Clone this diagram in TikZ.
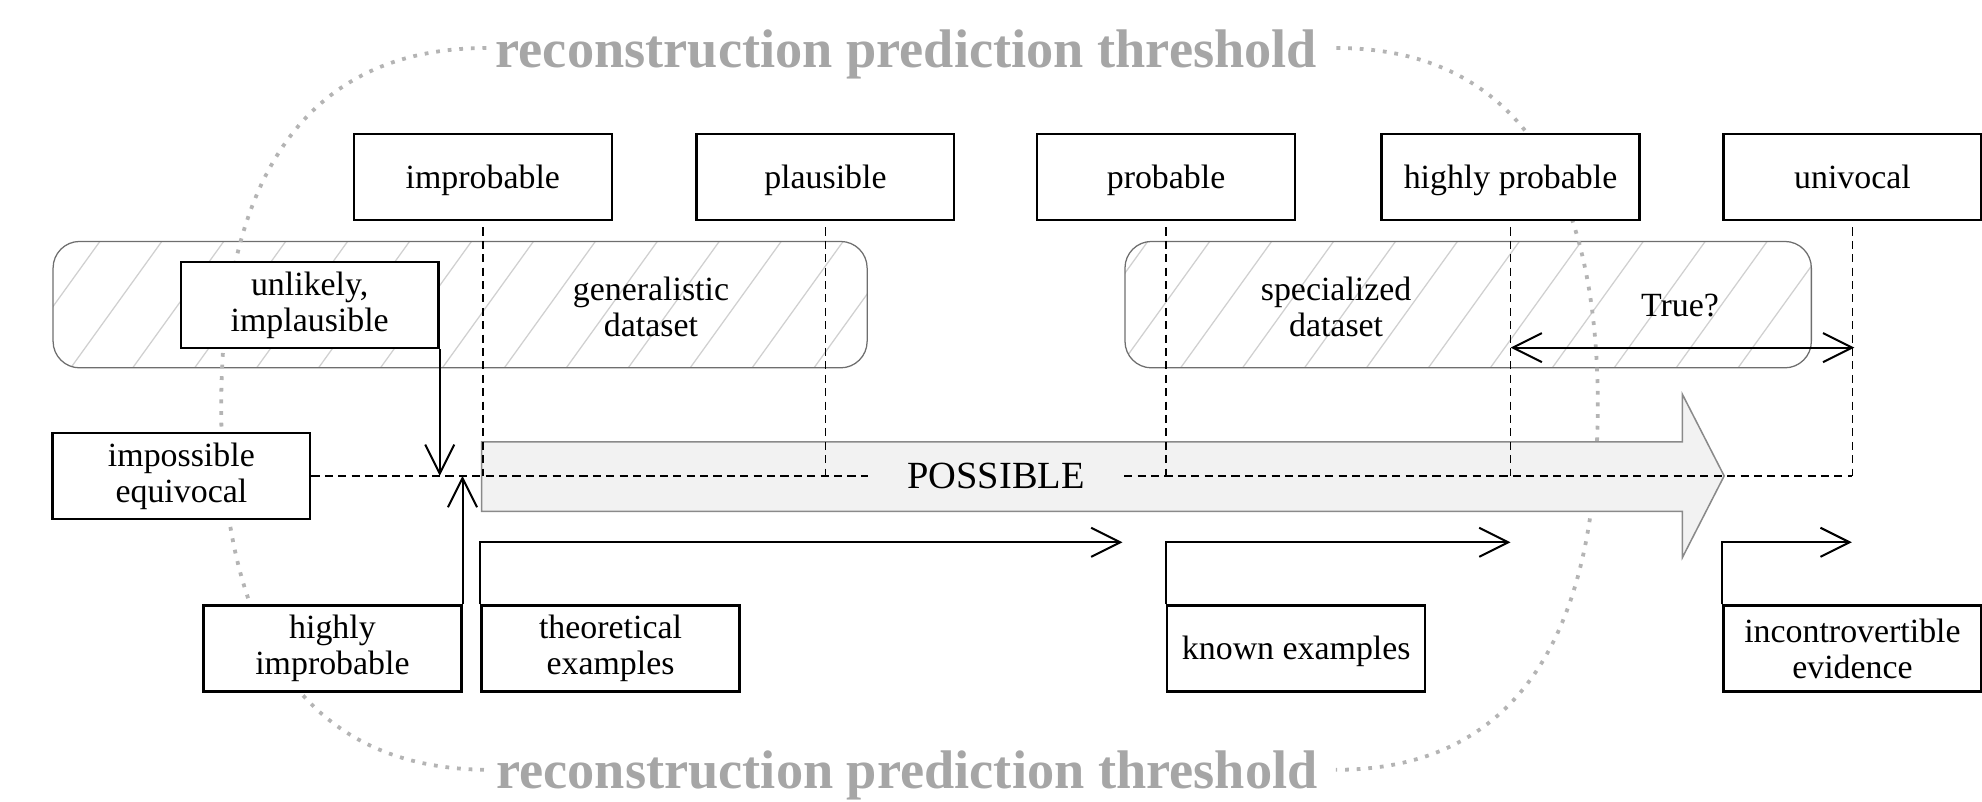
\documentclass[tikz,border=0pt]{standalone}
\usepackage{fontspec}
\setmainfont{Liberation Serif}
\usetikzlibrary{arrows.meta,calc}

\definecolor{hatchgray}{HTML}{D0D0D0}
\definecolor{framegray}{HTML}{6E6E6E}
\definecolor{dotgray}{HTML}{B4B4B4}
\definecolor{titlegray}{HTML}{A6A6A6}
\definecolor{arrowfill}{HTML}{F2F2F2}
\definecolor{arrowline}{HTML}{8A8A8A}

\begin{document}
\begin{tikzpicture}[x=0.5pt,y=-0.5pt,
  box/.style={draw, line width=0.9pt, fill=white, minimum width=102pt,
    minimum height=34pt, inner sep=0pt, align=center,
    font=\fontsize{13.4}{14.2}\selectfont},
  oneline/.style={text height=10.5pt, text depth=1.5pt},
  lbl/.style={inner sep=0pt, align=center, font=\fontsize{13.4}{14.2}\selectfont},
  title/.style={inner sep=0pt, text=titlegray,
    font=\fontsize{21.5}{24}\selectfont\bfseries},
  region/.style={draw=framegray, line width=0.5pt, rounded corners=10.5pt},
  hatch/.style={draw=hatchgray, line width=0.5pt},
  dotline/.style={draw=dotgray, line width=1.5pt, dash pattern=on 1.5pt off 3.1pt},
  dashline/.style={line width=0.7pt, dash pattern=on 3.2pt off 2.1pt},
  arr/.style={line width=0.8pt, -{Straight Barb[length=11.5pt,width=11.5pt]}},
  dblarr/.style={line width=0.8pt,
    {Straight Barb[length=11.5pt,width=11.5pt]}-{Straight Barb[length=11.5pt,width=11.5pt]}},
]
\useasboundingbox (0,0) rectangle (1568,634);

% hatched dataset regions
\begin{scope}
  \clip[rounded corners=10.5pt] (42,191) rectangle (686,291);
  \foreach \k in {-2,...,14} \draw[hatch] (79+49*\k-72,291) -- (79+49*\k,191);
\end{scope}
\draw[region] (42,191) rectangle (686,291);
\begin{scope}
  \clip[rounded corners=10.5pt] (890,191) rectangle (1433,291);
  \foreach \k in {-3,...,11} \draw[hatch] (957+49*\k-72,291) -- (957+49*\k,191);
\end{scope}
\draw[region] (890,191) rectangle (1433,291);

% threshold titles and the dotted boundary
\node[title, anchor=base] (ttop) at (717,53) {reconstruction prediction threshold};
\node[title, anchor=base] (tbot) at (717.5,624) {reconstruction prediction threshold};
\draw[dotline] ($(ttop.base west)+(-7,-15)$) .. controls (245,38) and (175,137) .. (175,322)
  .. controls (175,511) and (247,609) .. ($(tbot.base west)+(-5,-15)$);
\draw[dotline] ($(ttop.base east)+(15,-15)$) .. controls (1194,38) and (1264,137) .. (1264,320)
  .. controls (1264,511) and (1194,609) .. ($(tbot.base east)+(14,-15)$);

% the POSSIBLE arrow
\draw[fill=arrowfill, draw=arrowline, line width=0.6pt]
  (381,349.5) -- (1331,349.5) -- (1331,312) -- (1364,376.5) -- (1331,441)
  -- (1331,404.5) -- (381,404.5) -- cycle;
\node[inner sep=0pt, minimum width=101pt, font=\fontsize{15.2}{17}\selectfont] (pos) at (788,376.5) {POSSIBLE};

% dataset labels
\node[lbl] (gen) at (515,243) {generalistic\\dataset};
\node[lbl] (spec) at (1057,243) {specialized\\dataset};
\node[lbl, oneline] (tru) at (1329,241) {True?};

% top scale
\node[box, oneline] (improb) at (382,140) {improbable};
\node[box, oneline] (plaus) at (653,140) {plausible};
\node[box, oneline] (prob) at (922.5,140) {probable};
\node[box, oneline] (hprob) at (1195,140) {highly probable};
\node[box, oneline] (univ) at (1465.5,140) {univocal};

% left and bottom boxes
\node[box] (unl) at (245,241.5) {unlikely,\\implausible};
\node[box] (imp) at (143.5,376.5) {impossible\\equivocal};
\node[box] (himp) at (263,513) {highly\\improbable};
\node[box] (theo) at (483,513) {theoretical\\examples};
\node[box, oneline] (known) at (1025.5,513) {known examples};
\node[box] (incon) at (1465.5,513) {incontrovertible\\evidence};

% dashed guide lines
\foreach \b in {improb,plaus,prob,hprob,univ}
  \draw[dashline] ([yshift=-2.5pt]\b.south) -- (\b.south |- imp.east);
\draw[dashline] (imp.east) -- (pos.west);
\draw[dashline] (pos.east) -- (univ.south |- imp.east);

% arrows
\coordinate (e1) at (888,429);
\coordinate (e2) at (1195,429);
\coordinate (e3) at (1465,429);
\coordinate (tl) at (1195,275);
\coordinate (tr) at (1467,275);
\draw[arr] (unl.south east) -- (unl.south east |- imp.east);
\draw[arr] (himp.north east) -- (himp.north east |- imp.east);
\draw[arr] (theo.north west) |- (e1);
\draw[arr] (known.north west) |- (e2);
\draw[arr] (incon.north west) |- (e3);
\draw[dblarr] (tl) -- (tr);
\end{tikzpicture}
\end{document}
